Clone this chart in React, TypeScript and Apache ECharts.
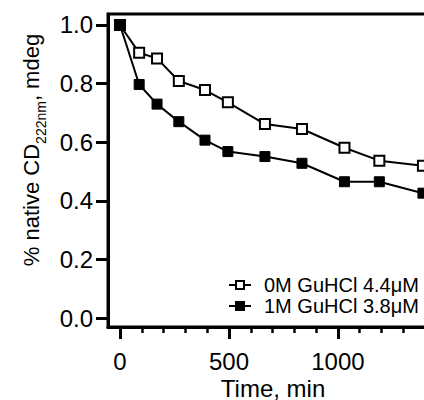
import React, { useEffect, useRef } from "react";
import * as echarts from "echarts";

const timeMin = [0, 88, 170, 270, 390, 495, 665, 835, 1030, 1190, 1390];
const open0M = [1.0, 0.905, 0.886, 0.809, 0.778, 0.736, 0.662, 0.645, 0.581, 0.537, 0.52];
const filled1M = [1.0, 0.797, 0.73, 0.67, 0.607, 0.568, 0.551, 0.528, 0.465, 0.465, 0.426];
const seriesNames = ["0M GuHCl 4.4μM", "1M GuHCl 3.8μM"];
const xMajorTicks = [0, 500, 1000];
const xMinorTicks = [100, 200, 300, 400, 600, 700, 800, 900, 1100, 1200, 1300, 1400];
const yTicks = [0, 0.2, 0.4, 0.6, 0.8, 1.0];

const FONT = "'Liberation Sans', Arial, Helvetica, sans-serif";

export default function App() {
  const ref = useRef<HTMLDivElement>(null);
  useEffect(() => {
    if (!ref.current) return;
    const chart = echarts.init(ref.current, null, { renderer: "svg" });
    const xMin = -55;
    const xMax = 1450;
    const baseX = {
      type: "value",
      min: xMin,
      max: xMax,
      position: "bottom",
      splitLine: { show: false },
    };
    chart.setOption({
      animation: false,
      backgroundColor: "#fff",
      textStyle: { fontFamily: FONT },
      grid: {
        left: 108,
        top: 14,
        bottom: 73,
        right: -12,
        outerBoundsMode: "none",
        containLabel: false,
        show: true,
        borderColor: "#000",
        borderWidth: 3,
        backgroundColor: "transparent",
      },
      xAxis: [
        {
          ...baseX,
          axisLine: { show: true, onZero: false, lineStyle: { color: "#000", width: 3 } },
          axisTick: {
            show: true,
            length: 12,
            inside: false,
            customValues: xMajorTicks,
            lineStyle: { color: "#000", width: 3 },
          },
          axisLabel: {
            customValues: xMajorTicks,
            color: "#000",
            fontSize: 24,
            fontFamily: FONT,
            margin: 22,
            formatter: (v: number) => String(v),
          },
        },
        {
          ...baseX,
          axisLine: { show: false, onZero: false },
          axisTick: {
            show: true,
            length: 6,
            inside: false,
            customValues: xMinorTicks,
            lineStyle: { color: "#000", width: 2.5 },
          },
          axisLabel: { show: false },
        },
      ],
      yAxis: {
        type: "value",
        min: -0.0307,
        max: 1.0375,
        splitLine: { show: false },
        axisLine: { show: true, onZero: false, lineStyle: { color: "#000", width: 3 } },
        axisTick: {
          show: true,
          length: 12,
          customValues: yTicks,
          lineStyle: { color: "#000", width: 3 },
        },
        axisLabel: {
          customValues: yTicks,
          color: "#000",
          fontSize: 24,
          fontFamily: FONT,
          margin: 15,
          formatter: (v: number) => v.toFixed(1),
        },
      },
      legend: {
        orient: "vertical",
        left: 223,
        top: 270,
        itemWidth: 22,
        itemHeight: 10,
        itemGap: 1,
        textStyle: { fontSize: 20, color: "#000", fontFamily: FONT, padding: [0, 0, 0, 8] },
        data: seriesNames,
      },
      graphic: [
        {
          type: "text",
          x: 29,
          y: 150,
          rotation: Math.PI / 2,
          style: {
            text: "{a|% native CD}{s|222nm}{a|, mdeg}",
            align: "center",
            verticalAlign: "middle",
            rich: {
              a: { fontSize: 22, fontFamily: FONT, fill: "#000", verticalAlign: "bottom", lineHeight: 26 },
              s: { fontSize: 14, fontFamily: FONT, fill: "#000", verticalAlign: "bottom", lineHeight: 26, padding: [0, 0, -6, 0] },
            },
          },
        },
        {
          type: "text",
          x: 273,
          y: 400,
          style: {
            text: "Time, min",
            fontSize: 24,
            fontFamily: FONT,
            fill: "#000",
            align: "center",
            verticalAlign: "bottom",
          },
        },
      ],
      series: [
        {
          name: seriesNames[0],
          type: "line",
          data: timeMin.map((t, i) => [t, open0M[i]]),
          symbol: "rect",
          symbolSize: 10,
          lineStyle: { color: "#000", width: 2 },
          itemStyle: { color: "#fff", borderColor: "#000", borderWidth: 2 },
          z: 3,
        },
        {
          name: seriesNames[1],
          type: "line",
          data: timeMin.map((t, i) => [t, filled1M[i]]),
          symbol: "rect",
          symbolSize: 10,
          lineStyle: { color: "#000", width: 2 },
          itemStyle: { color: "#000", borderColor: "#000", borderWidth: 1 },
          z: 4,
        },
      ],
    });
    return () => chart.dispose();
  }, []);
  return (
    <div
      ref={ref}
      style={{ position: "absolute", left: 0, top: 0, width: 424, height: 400 }}
    />
  );
}
